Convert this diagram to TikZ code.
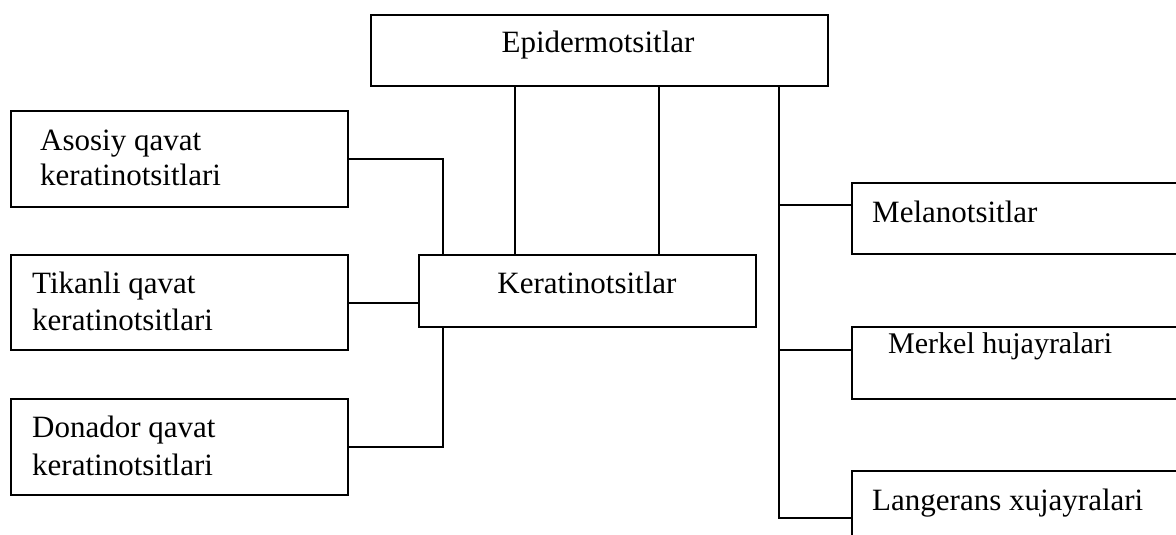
\documentclass[tikz,border=0pt]{standalone}
\usepackage{fontspec}
\setmainfont{Liberation Serif}
\begin{document}
\begin{tikzpicture}[x=1pt,y=-1pt,
  box/.style={draw=black, line width=2pt, rectangle, inner sep=0pt, anchor=north west},
  txt/.style={inner sep=0pt, font=\fontsize{31}{35.5}\selectfont},
  conn/.style={draw=black, line width=2pt}]
\useasboundingbox (0,0) rectangle (1176,535);
\clip (0,0) rectangle (1176,535);
% boxes
\node[box, minimum width=457pt, minimum height=71pt] (epi) at (370,14) {};
\node[box, minimum width=337pt, minimum height=96pt] (aso) at (10,110) {};
\node[box, minimum width=337pt, minimum height=95pt] (tik) at (10,254) {};
\node[box, minimum width=337pt, minimum height=96pt] (don) at (10,398) {};
\node[box, minimum width=337pt, minimum height=72pt] (ker) at (418,254) {};
\node[box, minimum width=360pt, minimum height=71pt] (mel) at (851,182) {};
\node[box, minimum width=360pt, minimum height=72pt] (mer) at (851,326) {};
\node[box, minimum width=360pt, minimum height=72pt] (lan) at (851,470) {};
% texts
\node[txt, anchor=base] (tepi) at (598,53) {Epidermotsitlar};
\node[txt, anchor=base west] (taso1) at (40,150) {Asosiy qavat};
\node[txt, anchor=base west] (taso2) at (40,185) {keratinotsitlari};
\node[txt, anchor=base west] (ttik1) at (32,293) {Tikanli qavat};
\node[txt, anchor=base west] (ttik2) at (32,330) {keratinotsitlari};
\node[txt, anchor=base west] (tdon1) at (32,437) {Donador qavat};
\node[txt, anchor=base west] (tdon2) at (32,475) {keratinotsitlari};
\node[txt, anchor=base] (tker) at (587,293) {Keratinotsitlar};
\node[txt, anchor=base west] (tmel) at (872,222) {Melanotsitlar};
\node[txt, anchor=base west, font=\fontsize{30}{35}\selectfont] (tmer) at (888,353) {Merkel hujayralari};
\node[txt, anchor=base west] (tlan) at (872,510) {Langerans xujayralari};
% connection points
\coordinate (trunk) at ([xshift=409pt]epi.south west);
\coordinate (melin) at ([yshift=-23pt]mel.north west);
\coordinate (merin) at ([yshift=-24pt]mer.north west);
\coordinate (lanin) at ([yshift=-48pt]lan.north west);
\coordinate (kerA) at ([xshift=25pt]ker.north west);
\coordinate (kerB) at ([xshift=97pt]ker.north west);
\coordinate (kerC) at ([xshift=241pt]ker.north west);
\coordinate (kerD) at ([xshift=25pt]ker.south west);
% connectors
\draw[conn] (aso.east) -| (kerA);
\draw[conn] (tik.east) -- (tik.east -| ker.west);
\draw[conn] (kerD) |- (don.east);
\draw[conn] (kerB |- epi.south) -- (kerB);
\draw[conn] (kerC |- epi.south) -- (kerC);
\draw[conn] (trunk) |- (lanin);
\draw[conn] (melin -| trunk) -- (melin);
\draw[conn] (merin -| trunk) -- (merin);
\end{tikzpicture}
\end{document}
